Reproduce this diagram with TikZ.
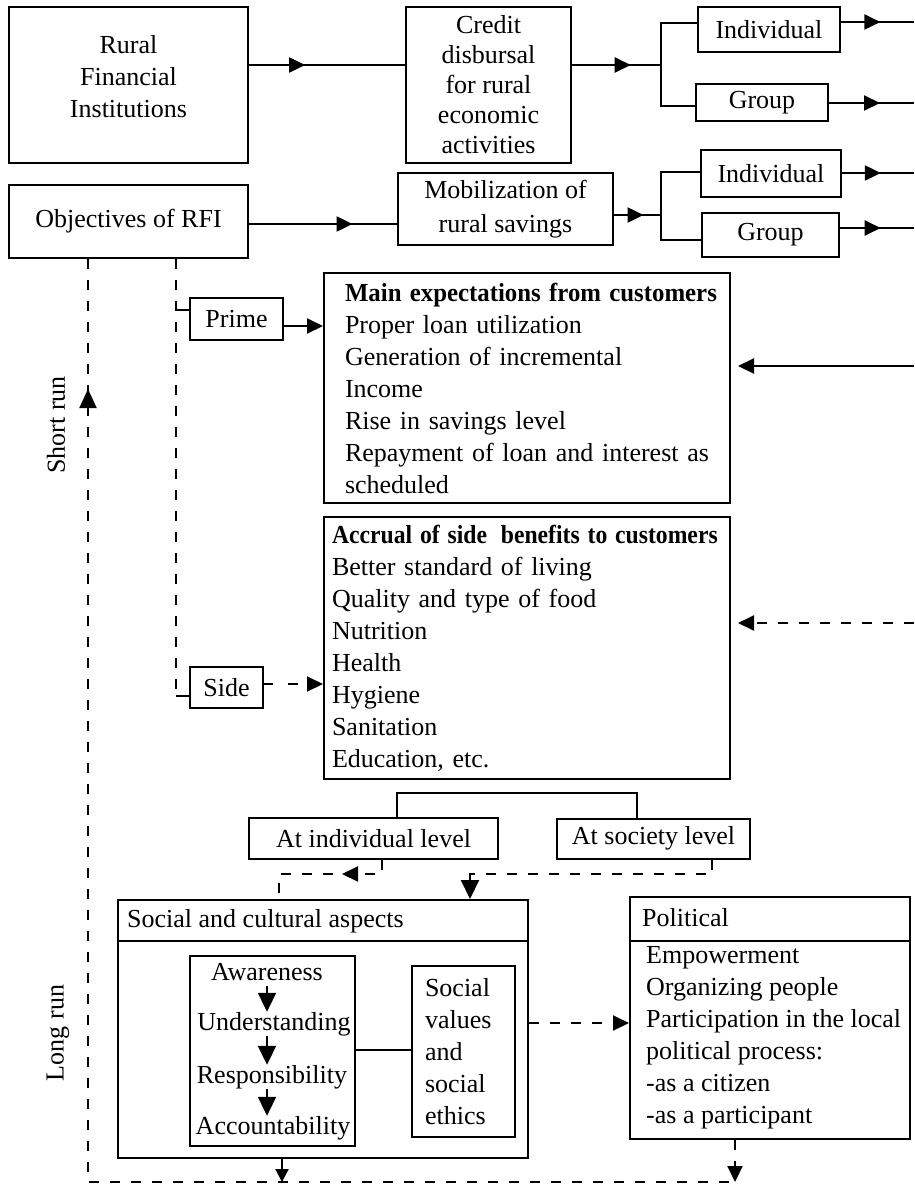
\documentclass[tikz,border=0pt]{standalone}
\usepackage{fontspec}
\usepackage{graphicx}
\setmainfont{Liberation Serif}
\usetikzlibrary{arrows.meta,decorations.markings,calc}

\newcommand\bodyfont{\fontsize{26}{32}\selectfont}

\tikzset{
  txt/.style={inner sep=0pt, font=\bodyfont},
  box/.style={draw, line width=2pt, inner sep=0pt, align=center, font=\bodyfont},
  word/.style={inner sep=0pt, font=\bodyfont, text height=18pt, text depth=6pt},
  ln/.style={line width=2pt},
  dl/.style={line width=2pt, dash pattern=on 10pt off 11pt},
  tip/.style={-{Triangle[length=16pt,width=15pt]}},
  bigtip/.style={-{Triangle[length=19pt,width=18pt]}},
  smalltip/.style={-{Triangle[length=13pt,width=13pt]}},
  amid/.style={postaction={decorate, decoration={markings,
      mark=at position #1 with {\arrow{Triangle[length=16pt,width=15pt]}}}}},
  arev/.style={postaction={decorate, decoration={markings,
      mark=at position #1 with {\arrowreversed{Triangle[length=19pt,width=17pt]}}}}},
}

\begin{document}
\begin{tikzpicture}[x=1pt,y=-1pt]
\useasboundingbox (0,0) rectangle (914,1191);

% ---------- first row: institutions and credit ----------
\node[box, minimum width=239pt, minimum height=156pt] (rfi) at (128.5,85) {};
\node[txt, align=center] (rfiT) at (128.5,77) {Rural\\Financial\\Institutions};
\node[box, minimum width=165pt, minimum height=156pt,
      font=\fontsize{26}{30}\selectfont] (credit) at (488.5,85)
      {Credit\\disbursal\\for rural\\economic\\activities};
\node[box, minimum width=142pt, minimum height=45pt] (ind1) at (769,29.5) {Individual};
\node[box, minimum width=132pt, minimum height=37pt] (grp1) at (762,102.5) {Group};

\coordinate (b1) at (661,65);
\coordinate (b1t) at (661,23);
\coordinate (b1b) at (661,106);
\coordinate (o1) at (914,22);
\coordinate (o2) at (914,103);
\draw[ln, amid=0.36] (rfi.east |- b1) -- (credit.west |- b1);
\draw[ln, amid=0.66] (credit.east |- b1) -- (b1);
\draw[ln] (ind1.west |- b1t) -- (b1t) -- (b1b) -- (grp1.west |- b1b);
\draw[ln, amid=0.54] (ind1.east |- o1) -- (o1);
\draw[ln, amid=0.6] (grp1.east |- o2) -- (o2);

% ---------- second row: objectives and savings ----------
\node[box, minimum width=239pt, minimum height=73pt] (obj) at (128.5,221.5) {Objectives of RFI};
\node[box, minimum width=215pt, minimum height=72pt,
      font=\fontsize{26}{34}\selectfont] (mob) at (505.5,209)
      {Mobilization of\\rural savings};
\node[box, minimum width=140pt, minimum height=47pt] (ind2) at (771,173.5) {Individual};
\node[box, minimum width=137pt, minimum height=44pt] (grp2) at (770.5,235) {Group};

\coordinate (a2) at (300,224);
\coordinate (b2) at (661,215);
\coordinate (b2t) at (661,172);
\coordinate (b2b) at (661,240);
\coordinate (o3) at (914,173);
\coordinate (o4) at (914,228);
\draw[ln, amid=0.7] (obj.east |- a2) -- (mob.west |- a2);
\draw[ln, amid=0.63] (mob.east |- b2) -- (b2);
\draw[ln] (ind2.west |- b2t) -- (b2t) -- (b2b) -- (grp2.west |- b2b);
\draw[ln, amid=0.54] (ind2.east |- o3) -- (o3);
\draw[ln, amid=0.55] (grp2.east |- o4) -- (o4);

% ---------- expectations ----------
\node[box, text width=364pt, inner xsep=21pt, minimum height=230pt, align=left]
  (main) at (527,388)
  {\scalebox{0.955}[1]{\bfseries Main expectations from customers}\\
   Proper loan utilization\\
   Generation of incremental\\
   Income\\
   Rise in savings level\\
   Repayment of loan and interest as\\
   scheduled};
\node[box, text width=390pt, inner xsep=8pt, minimum height=262pt, align=left]
  (side) at (527,648)
  {\scalebox{0.91}[1]{\bfseries Accrual of side\hspace{0.25em} benefits to customers}\\
   Better standard of living\\
   Quality and type of food\\
   Nutrition\\
   Health\\
   Hygiene\\
   Sanitation\\
   Education, etc.};

\node[box, minimum width=93pt, minimum height=42pt] (prime) at (236.5,319) {Prime};
\node[box, minimum width=73pt, minimum height=41pt] (sbox) at (226.5,687.5) {Side};

\coordinate (sv) at (176,310);
\coordinate (sd) at (176,696);
\coordinate (pa) at (300,326);
\coordinate (sa) at (300,684);
\draw[dl] (sv |- obj.south) -- (sd);
\draw[ln] (sv) -- (prime.west |- sv);
\draw[ln] (sd) -- (sbox.west |- sd);
\draw[ln, tip] (prime.east |- pa) -- (main.west |- pa);
\draw[ln, tip, dash pattern=on 9pt off 15pt on 10pt off 30pt] (sbox.east |- sa) -- (side.west |- sa);

\coordinate (ri1) at (914,366);
\coordinate (ri2) at (914,623);
\draw[ln, tip] (ri1) -- ($(main.east |- ri1)+(7,0)$);
\draw[dl, tip] (ri2) -- ($(side.east |- ri2)+(7,0)$);

% ---------- levels ----------
\node[box, minimum width=249pt, minimum height=41pt] (lvi) at (373.5,838.5) {At individual level};
\node[box, minimum width=193pt, minimum height=40pt] (lvs) at (653.5,838.5) {At society level};
\coordinate (tl) at (397,793);
\coordinate (tr) at (637,793);
\draw[ln] (tl |- lvi.north) -- (tl) -- (tr) -- (tr |- lvs.north);

% ---------- social and cultural aspects ----------
\node[box, minimum width=410pt, minimum height=258pt] (soc) at (323,1029) {};
\coordinate (hl) at (300,941);
\draw[ln] (soc.west |- hl) -- (soc.east |- hl);
\node[txt, anchor=west] (socT) at (127,921) {Social and cultural aspects};

\coordinate (d1a) at (382,874);
\coordinate (d1b) at (279,874);
\coordinate (d2a) at (712,874);
\coordinate (d2b) at (470,874);
\draw[dl, amid=54pt] (lvi.south -| d1a) -- (d1a) -- (d1b) -- (d1b |- soc.north);
\draw[dl, bigtip] (lvs.south -| d2a) -- (d2a) -- (d2b) -- (d2b |- soc.north);

\node[box, minimum width=165pt, minimum height=190pt] (chain) at (272.5,1051) {};
\node[word, anchor=base] (w1) at (267,980) {Awareness};
\node[word, anchor=base] (w2) at (274,1030) {Understanding};
\node[word, anchor=base] (w3) at (272,1083) {Responsibility};
\node[word, anchor=base] (w4) at (273,1134) {Accountability};
\coordinate (ax) at (267,1000);
\draw[ln, bigtip] (w1.south -| ax) -- (w2.north -| ax);
\draw[ln, bigtip] (w2.south -| ax) -- (w3.north -| ax);
\draw[ln, bigtip] (w3.south -| ax) -- (w4.north -| ax);

\node[box, text width=77pt, inner xsep=13pt, minimum height=171pt, align=left]
  (vals) at (463.5,1051.5) {Social\\values\\and\\social\\ethics};
\coordinate (cl) at (400,1050);
\draw[ln] (chain.east |- cl) -- (vals.west |- cl);

% ---------- political ----------
\node[box, minimum width=280pt, minimum height=242pt] (pol) at (770,1018) {};
\coordinate (ph) at (770,941);
\draw[ln] (pol.west |- ph) -- (pol.east |- ph);
\node[txt, anchor=west] (polT) at (642,918) {Political};
\node[txt, anchor=west, align=left] (polC) at (646,1038)
  {Empowerment\\Organizing people\\Participation in the local\\political process:\\-as a citizen\\-as a participant};

\coordinate (sp) at (600,1023);
\draw[dl, tip] (soc.east |- sp) -- (pol.west |- sp);

% ---------- feedback loop ----------
\coordinate (lx) at (88,300);
\coordinate (bl) at (88,1182);
\coordinate (br) at (735,1182);
\coordinate (sd1) at (282,1182);
\draw[dl, arev=130pt] (lx |- obj.south) -- (bl) -- (br);
\draw[ln, smalltip] (soc.south -| sd1) -- (sd1);
\draw[dl, tip] (pol.south -| br) -- (br);

\node[txt, rotate=90] (sr) at (56,425) {Short run};
\node[txt, rotate=90] (lr) at (58,1033) {Long run};
\end{tikzpicture}
\end{document}
